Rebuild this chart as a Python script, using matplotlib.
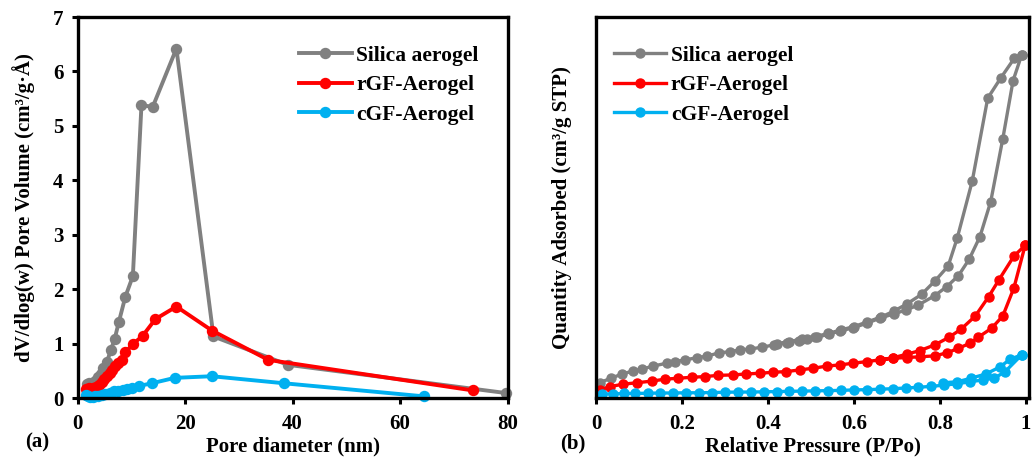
import matplotlib
matplotlib.use("Agg")
import matplotlib.pyplot as plt

plt.rcParams['font.family'] = ['Liberation Serif', 'DejaVu Serif']
plt.rcParams['font.weight'] = 'bold'

GREY = '#808080'
RED = '#FF0000'
BLUE = '#00B0F0'

series_names = ['Silica aerogel', 'rGF-Aerogel', 'cGF-Aerogel']

# ---- (a) pore size distribution ----
silica_d = [1.7, 2.2, 2.8, 3.3, 3.8, 4.3, 4.8, 5.5, 6.2, 6.9, 7.7, 8.9, 10.3,
            11.9, 14.0, 18.4, 25.3, 39.1, 79.8]
silica_v = [0.25, 0.27, 0.28, 0.32, 0.38, 0.45, 0.55, 0.67, 0.88, 1.08, 1.40,
            1.86, 2.24, 5.38, 5.35, 6.42, 1.13, 0.61, 0.09]

rgf_d = [1.6, 2.2, 2.8, 3.4, 4.0, 4.5, 5.0, 5.5, 6.0, 6.5, 7.0, 7.6, 8.2, 8.9,
         10.3, 12.1, 14.5, 18.4, 25.0, 35.5, 73.5]
rgf_v = [0.16, 0.18, 0.18, 0.20, 0.24, 0.29, 0.34, 0.40, 0.46, 0.52, 0.58,
         0.64, 0.70, 0.84, 0.99, 1.14, 1.45, 1.68, 1.24, 0.70, 0.14]

cgf_d = [1.5, 1.9, 2.3, 2.8, 3.3, 3.9, 4.5, 5.2, 6.0, 6.8, 7.6, 8.5, 9.3,
         10.2, 11.4, 13.8, 18.1, 25.0, 38.5, 64.5]
cgf_v = [0.06, 0.03, 0.02, 0.02, 0.03, 0.04, 0.06, 0.08, 0.10, 0.12, 0.13,
         0.15, 0.17, 0.18, 0.22, 0.27, 0.37, 0.40, 0.27, 0.03]

# ---- (b) N2 isotherms: adsorption branch then desorption branch ----
silica_ads_p = [0.009, 0.034, 0.060, 0.085, 0.106, 0.133, 0.164, 0.184, 0.207,
                0.234, 0.258, 0.285, 0.312, 0.335, 0.358, 0.386, 0.413, 0.444,
                0.471, 0.490, 0.514, 0.541, 0.567, 0.598, 0.630, 0.660, 0.692,
                0.722, 0.750, 0.788, 0.816, 0.843, 0.868, 0.893, 0.918, 0.946,
                0.970, 0.990]
silica_ads_q = [64, 83, 100, 113, 121, 134, 146, 153, 160, 169, 176, 189, 195,
                202, 206, 213, 223, 232, 241, 247, 255, 268, 281, 295, 314, 335,
                353, 370, 391, 430, 468, 514, 583, 678, 825, 1088, 1333, 1441]
silica_des_p = [0.990, 0.973, 0.941, 0.911, 0.875, 0.840, 0.819, 0.788, 0.757,
                0.723, 0.693, 0.663, 0.630, 0.600, 0.570, 0.540, 0.510, 0.480,
                0.450, 0.420]
silica_des_q = [1441, 1427, 1343, 1259, 911, 671, 554, 491, 435, 395, 365,
                340, 319, 300, 286, 271, 258, 248, 237, 227]

rgf_ads_p = [0.009, 0.033, 0.063, 0.095, 0.130, 0.160, 0.191, 0.223, 0.253,
             0.284, 0.319, 0.350, 0.381, 0.412, 0.443, 0.474, 0.505, 0.537,
             0.567, 0.598, 0.630, 0.660, 0.691, 0.723, 0.753, 0.788, 0.817,
             0.843, 0.870, 0.889, 0.920, 0.946, 0.972, 0.998]
rgf_ads_q = [34, 48, 58, 64, 71, 79, 83, 87, 90, 95, 97, 101, 104, 108, 111,
             118, 125, 134, 139, 146, 153, 160, 167, 170, 173, 177, 190, 209,
             230, 255, 293, 344, 463, 641]
rgf_des_p = [0.998, 0.972, 0.937, 0.913, 0.882, 0.849, 0.821, 0.788, 0.753,
             0.723, 0.691, 0.660]
rgf_des_q = [641, 596, 496, 425, 344, 289, 255, 223, 199, 184, 169, 160]

cgf_ads_p = [0.013, 0.039, 0.066, 0.090, 0.120, 0.150, 0.180, 0.210, 0.240,
             0.270, 0.300, 0.330, 0.360, 0.390, 0.420, 0.450, 0.480, 0.510,
             0.540, 0.570, 0.600, 0.630, 0.660, 0.690, 0.720, 0.750, 0.780,
             0.810, 0.840, 0.870, 0.900, 0.926, 0.951, 0.990]
cgf_ads_q = [17, 17, 19, 19, 20, 21, 21, 22, 22, 23, 24, 25, 25, 26, 27, 28,
             29, 30, 31, 32, 34, 35, 37, 39, 42, 45, 49, 54, 60, 68, 76, 83,
             110, 181]
cgf_des_p = [0.990, 0.963, 0.940, 0.907, 0.872, 0.840, 0.807]
cgf_des_q = [181, 163, 131, 101, 83, 68, 64]

FS = 15
LEG_FS = 15.5

fig = plt.figure(figsize=(10.33, 4.59), dpi=100)
ax1 = fig.add_axes([77.5 / 1033, 1 - 398 / 459, 430 / 1033, 381 / 459])
ax2 = fig.add_axes([596 / 1033, 1 - 398 / 459, 433 / 1033, 381 / 459])


def style_axes(ax):
    for s in ax.spines.values():
        s.set_linewidth(2.4)
    ax.tick_params(direction='out', length=4, width=2.2, labelsize=FS)
    ax.tick_params(axis='x', pad=7.5)
    ax.tick_params(axis='y', pad=6)
    for lab in ax.get_xticklabels() + ax.get_yticklabels():
        lab.set_fontweight('bold')


line_kw = dict(marker='o', clip_on=False)
leg_kw = dict(loc='upper left', frameon=False, fontsize=LEG_FS,
              handlelength=2.45, handletextpad=0.2, labelspacing=0.44,
              borderaxespad=0)

ax1.plot(silica_d, silica_v, color=GREY, lw=2.8, ms=7.2, label=series_names[0], **line_kw)
ax1.plot(rgf_d, rgf_v, color=RED, lw=2.8, ms=7.2, label=series_names[1], **line_kw)
ax1.plot(cgf_d, cgf_v, color=BLUE, lw=2.8, ms=7.2, label=series_names[2], **line_kw)
ax1.set_xlim(0, 80)
ax1.set_ylim(0, 7)
ax1.set_xticks([0, 20, 40, 60, 80])
ax1.set_yticks(range(0, 8))
style_axes(ax1)
ax1.set_xlabel('Pore diameter (nm)', fontsize=FS, fontweight='bold', labelpad=2)
ax1.set_ylabel('dV/dlog(w) Pore Volume (cm³/g·Å)', fontsize=FS,
               fontweight='bold', labelpad=13)
ax1.legend(bbox_to_anchor=(0.495, 0.947), **leg_kw)

isotherms = [
    (silica_ads_p + silica_des_p, silica_ads_q + silica_des_q, GREY),
    (rgf_ads_p + rgf_des_p, rgf_ads_q + rgf_des_q, RED),
    (cgf_ads_p + cgf_des_p, cgf_ads_q + cgf_des_q, BLUE),
]
for (p, q, c), name in zip(isotherms, series_names):
    ax2.plot(p, q, color=c, lw=2.4, ms=6.5, label=name, **line_kw)
ax2.set_xlim(0, 1.007)
ax2.set_ylim(0, 1600)
ax2.set_xticks([0, 0.2, 0.4, 0.6, 0.8, 1.0])
ax2.set_xticklabels(['0', '0.2', '0.4', '0.6', '0.8', '1'])
ax2.set_yticks([])
style_axes(ax2)
ax2.set_xlabel('Relative Pressure (P/Po)', fontsize=FS, fontweight='bold', labelpad=2)
ax2.set_ylabel('Quantity Adsorbed (cm³/g STP)', fontsize=FS,
               fontweight='bold', labelpad=17)
ax2.legend(bbox_to_anchor=(0.021, 0.947), **leg_kw)

fig.text(37 / 1033, 1 - 442 / 459, '(a)', fontsize=FS, fontweight='bold',
         ha='center', va='center')
fig.text(573 / 1033, 1 - 443 / 459, '(b)', fontsize=FS, fontweight='bold',
         ha='center', va='center')

fig.savefig('out.png', dpi=100)
